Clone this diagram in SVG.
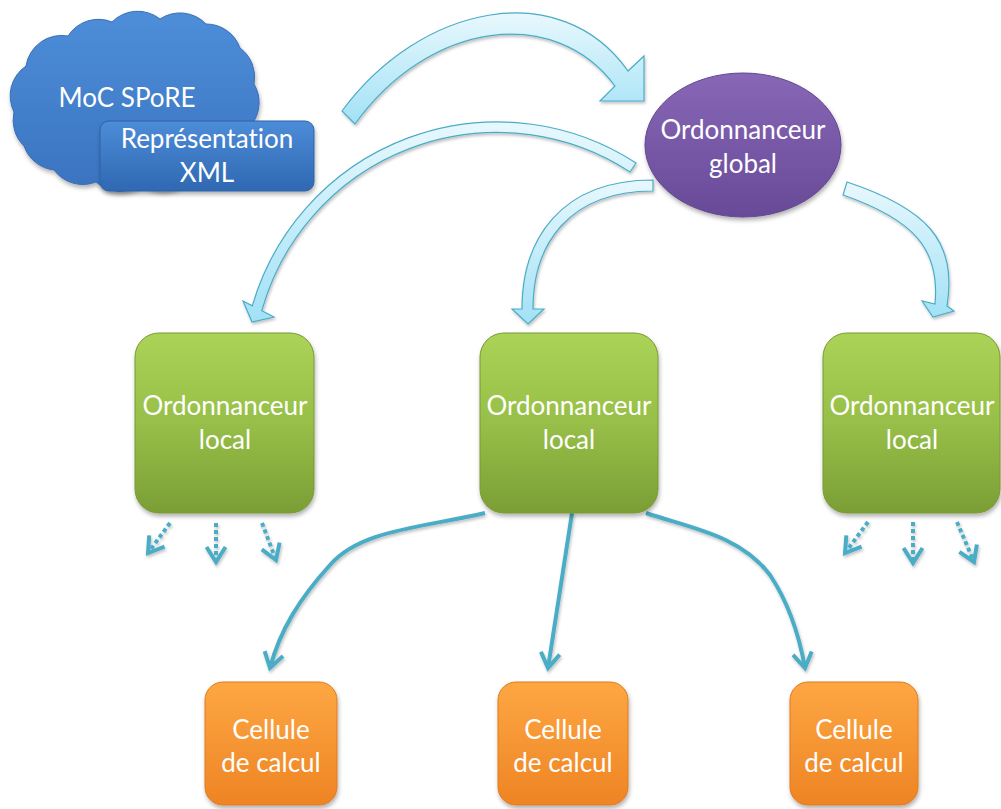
<svg xmlns="http://www.w3.org/2000/svg" width="1001" height="809" viewBox="0 0 1001 809">
<defs>
  <linearGradient id="gCloud" x1="0" y1="0" x2="0" y2="1"><stop offset="0" stop-color="#4e8ed9"/><stop offset="1" stop-color="#3a73c0"/></linearGradient>
  <linearGradient id="gRect" x1="0" y1="0" x2="0" y2="1"><stop offset="0" stop-color="#4d8cd8"/><stop offset="1" stop-color="#2f68b2"/></linearGradient>
  <linearGradient id="gPurple" x1="0" y1="0" x2="0" y2="1"><stop offset="0" stop-color="#8767b6"/><stop offset="1" stop-color="#684a98"/></linearGradient>
  <linearGradient id="gGreen" x1="0" y1="0" x2="0" y2="1"><stop offset="0" stop-color="#abd357"/><stop offset="0.5" stop-color="#97bf48"/><stop offset="1" stop-color="#7b9e35"/></linearGradient>
  <linearGradient id="gOrange" x1="0" y1="0" x2="0" y2="1"><stop offset="0" stop-color="#fda743"/><stop offset="1" stop-color="#ee8424"/></linearGradient>
  <linearGradient id="gArrow" x1="0" y1="0" x2="0" y2="1"><stop offset="0" stop-color="#e8f8fd"/><stop offset="1" stop-color="#a2e1f6"/></linearGradient>
  <filter id="sh" x="-10%" y="-10%" width="130%" height="140%">
    <feDropShadow dx="1" dy="3" stdDeviation="2" flood-color="#000" flood-opacity="0.3"/>
  </filter>
  <filter id="shs" x="-20%" y="-20%" width="150%" height="150%">
    <feDropShadow dx="1" dy="2" stdDeviation="1.5" flood-color="#000" flood-opacity="0.25"/>
  </filter>
  <marker id="head" markerUnits="userSpaceOnUse" viewBox="0 0 24 24" markerWidth="24" markerHeight="24" refX="19" refY="12" orient="auto">
    <path d="M4,2.5 L19,12 L4,21.5" fill="none" stroke="#4bacc6" stroke-width="4" stroke-linejoin="miter"/>
  </marker>
</defs>
<style>
  .lbl{font-family:Lato,"Open Sans","Liberation Sans",sans-serif;font-size:26px;fill:#ffffff;text-anchor:middle;font-variant-ligatures:none}
  .big{fill:url(#gArrow);stroke:#4bacc6;stroke-width:1.2;stroke-linejoin:miter}
  .thin{fill:none;stroke:#4bacc6;stroke-width:4;marker-end:url(#head)}
  .dot{stroke-dasharray:4 3}
</style>

<g id="connectors">
  <g filter="url(#shs)">
    <path class="big" d="M342,111 C420,5 560,-25 628,71 L644,56 L644,101 L600,101 L615,86 C555,5 430,20 355,124 Z"/>
    <path class="big" d="M636,163 A255,255 0 0 0 252.3,305.8 L243,301 L252,322 L274,317 L261.8,310.7 A244,244 0 0 1 630,172 Z"/>
    <path class="big" d="M653,180 C560,180 522,240 522,309 L512,309 L528,324 L544,309 L533,309 C533,245 568,191 653,191 Z"/>
    <path class="big" d="M847,182 C925,208 958,240 947,306 L954,311 L933,317 L922,301 L935,304 C940,250 915,220 843,195 Z"/>
  </g>
  <g filter="url(#shs)">
    <path class="thin" d="M485,513 C420,528 360,530 330,565 C300,598 280,630 270,668"/>
    <path class="thin" d="M572,513 Q560,590 548,668"/>
    <path class="thin" d="M646,513 C690,528 740,535 770,575 C790,605 800,640 805,668"/>
    <path class="thin dot" d="M170,523 L148,553"/>
    <path class="thin dot" d="M216,523 L216,562"/>
    <path class="thin dot" d="M262,523 L276,560"/>
    <path class="thin dot" d="M868,522 L845,553"/>
    <path class="thin dot" d="M913,522 L913,563"/>
    <path class="thin dot" d="M957,522 L974,562"/>
  </g>
</g>

<g id="cloud-moc-spore">
  <path filter="url(#sh)" fill="url(#gCloud)" stroke="#3a6eb3" stroke-width="1" d="M14,112 A36,36 0 0 1 26,66 A36,36 0 0 1 68,36 A36,36 0 0 1 112,22 A36,36 0 0 1 160,19 A36,36 0 0 1 206,24 A36,36 0 0 1 240,48 A36,36 0 0 1 254,84 A36,36 0 0 1 252,124 A36,36 0 0 1 232,158 A36,36 0 0 1 190,178 A36,36 0 0 1 142,184 A36,36 0 0 1 96,182 A36,36 0 0 1 54,170 A36,36 0 0 1 24,146 A36,36 0 0 1 14,112 Z"/>
  <text class="lbl" x="127" y="107">MoC SPoRE</text>
</g>

<g id="representation-xml">
  <rect filter="url(#sh)" x="100" y="121" width="214" height="70" rx="9" fill="url(#gRect)" stroke="#2d62a8" stroke-width="1"/>
  <text class="lbl" x="207" y="148">Représentation</text>
  <text class="lbl" x="207" y="182">XML</text>
</g>

<g id="ordonnanceur-global">
  <ellipse filter="url(#sh)" cx="743" cy="145" rx="98" ry="72" fill="url(#gPurple)" stroke="#62468f" stroke-width="1"/>
  <text class="lbl" x="743" y="139">Ordonnanceur</text>
  <text class="lbl" x="743" y="173">global</text>
</g>

<g id="local-1">
  <rect filter="url(#sh)" x="135" y="333" width="179" height="180" rx="24" fill="url(#gGreen)" stroke="#789a36" stroke-width="1"/>
  <text class="lbl" x="225" y="415">Ordonnanceur</text>
  <text class="lbl" x="225" y="449">local</text>
</g>

<g id="local-2">
  <rect filter="url(#sh)" x="480" y="333" width="178" height="180" rx="24" fill="url(#gGreen)" stroke="#789a36" stroke-width="1"/>
  <text class="lbl" x="569" y="415">Ordonnanceur</text>
  <text class="lbl" x="569" y="449">local</text>
</g>

<g id="local-3">
  <rect filter="url(#sh)" x="823" y="333" width="177" height="180" rx="24" fill="url(#gGreen)" stroke="#789a36" stroke-width="1"/>
  <text class="lbl" x="912" y="415">Ordonnanceur</text>
  <text class="lbl" x="912" y="449">local</text>
</g>

<g id="cellule-1">
  <rect filter="url(#sh)" x="205" y="682" width="132" height="123" rx="18" fill="url(#gOrange)" stroke="#e07a1e" stroke-width="1"/>
  <text class="lbl" x="271" y="739">Cellule</text>
  <text class="lbl" x="271" y="772">de calcul</text>
</g>

<g id="cellule-2">
  <rect filter="url(#sh)" x="498" y="682" width="130" height="123" rx="18" fill="url(#gOrange)" stroke="#e07a1e" stroke-width="1"/>
  <text class="lbl" x="563" y="739">Cellule</text>
  <text class="lbl" x="563" y="772">de calcul</text>
</g>

<g id="cellule-3">
  <rect filter="url(#sh)" x="790" y="682" width="128" height="123" rx="18" fill="url(#gOrange)" stroke="#e07a1e" stroke-width="1"/>
  <text class="lbl" x="854" y="739">Cellule</text>
  <text class="lbl" x="854" y="772">de calcul</text>
</g>
</svg>
